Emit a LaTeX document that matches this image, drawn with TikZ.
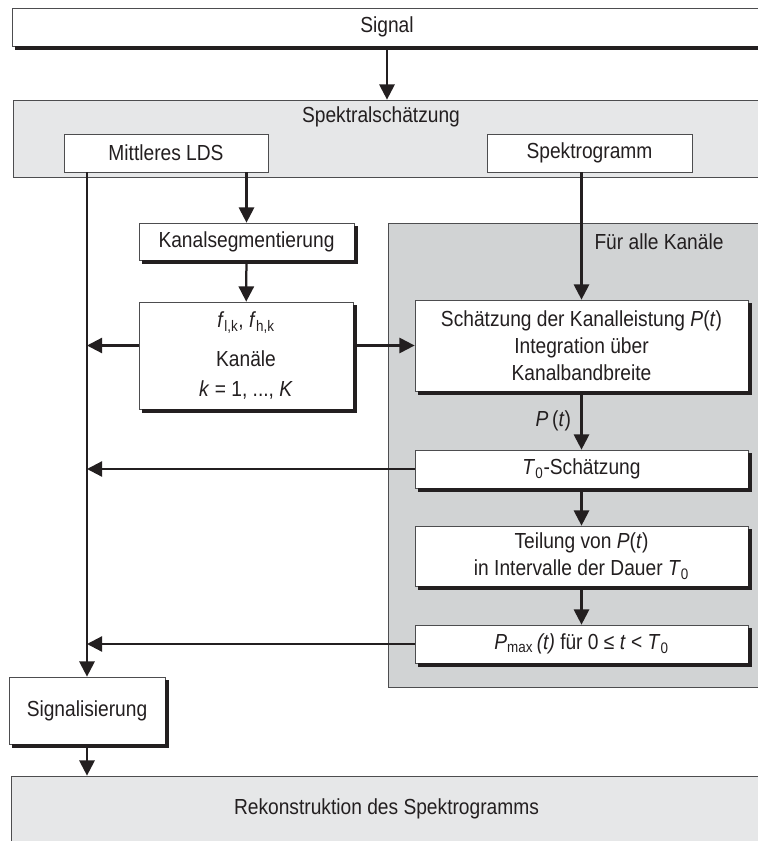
\documentclass[tikz,border=0pt]{standalone}
\usepackage{fontspec}
\setmainfont{Liberation Sans}[FakeStretch=0.88]
\usetikzlibrary{arrows.meta}
\definecolor{hellgrau}{HTML}{E6E7E8}
\definecolor{mittelgrau}{HTML}{D1D3D4}
\definecolor{rand}{HTML}{4D4D4F}
\definecolor{linie}{HTML}{231F20}

\begin{document}
\begin{tikzpicture}[x=0.025cm, y=-0.025cm,
		font=\fontsize{15.5}{19}\selectfont, text=linie,
		block/.style={draw=rand, fill=white, line width=0.5pt, inner sep=2pt, align=center},
		gruppe/.style={draw=rand, line width=0.5pt, inner sep=0pt},
		schatten/.style={fill=linie},
		pfeil/.style={draw=linie, line width=1.6pt, -{Triangle[length=0.38cm, width=0.38cm]}}]
	\useasboundingbox (0,0) rectangle (757,841);
	
	% grey groups
	\node[gruppe, fill=hellgrau, minimum width=18.725cm, minimum height=1.925cm] (spek) at (387.5,138.5) {};
	\node (spektxt) at (381,117) {Spektralschätzung};
	\node[gruppe, fill=mittelgrau, minimum width=9.35cm, minimum height=11.6cm] (alle) at (575,455) {};
	\node (alletxt) at (659,242) {Für alle Kanäle};
	\node[gruppe, fill=hellgrau, minimum width=18.775cm, minimum height=1.65cm] (rek) at (386.5,809) {Rekonstruktion des Spektrogramms};
	
	% blocks
	\node[block, minimum width=18.75cm, minimum height=0.95cm] (signal) at (387,27) {Signal};
	\node[block, minimum width=5.1cm, minimum height=0.95cm] (lds) at (166,153) {Mittleres LDS};
	\node[block, minimum width=5.125cm, minimum height=0.95cm] (spg) at (589.5,153) {Spektrogramm};
	\node[block, minimum width=5.375cm, minimum height=0.925cm] (kseg) at (246.5,241.5) {Kanalsegmentierung};
	\node[block, minimum width=5.35cm, minimum height=2.675cm] (kan) at (246,355.5)
		{\textit{f}\textsubscript{l,k}, \textit{f}\textsubscript{h,k}\\[9pt] Kanäle\\[2pt] \textit{k} = 1, ..., \textit{K}};
	\node[block, minimum width=8.325cm, minimum height=2.275cm] (schaetz) at (581.5,345.5)
		{Schätzung der Kanalleistung \textit{P}(\textit{t})\\ Integration über\\ Kanalbandbreite};
	\node[block, minimum width=8.325cm, minimum height=0.95cm] (tnull) at (581.5,469) {\textit{T}\textsubscript{0}-Schätzung};
	\node[block, minimum width=8.325cm, minimum height=1.5cm] (teil) at (581.5,556)
		{Teilung von \textit{P}(\textit{t})\\ in Intervalle der Dauer \textit{T}\textsubscript{0}};
	\node[block, minimum width=8.325cm, minimum height=0.95cm] (pmax) at (581.5,644)
		{\textit{P}\textsubscript{max}\,\textit{(t)} für 0 ≤ \textit{t} < \textit{T}\textsubscript{0}};
	\node[block, minimum width=3.9cm, minimum height=1.675cm] (sig) at (87,710.5) {Signalisierung};
	
	% shadows below and right of the blocks
	\foreach \n in {signal,kseg,kan,schaetz,tnull,teil,pmax,sig}
	{	\path[schatten] ([xshift=0.08cm]\n.south west) rectangle ([xshift=0.08cm, yshift=-0.08cm]\n.south east);
		\path[schatten] ([yshift=-0.08cm]\n.north east) rectangle ([xshift=0.08cm, yshift=-0.08cm]\n.south east);
	}
	
	% connections
	\draw[pfeil] (signal.south) -- (signal.south |- spek.north);
	\draw[pfeil] (kseg.north |- lds.south) -- (kseg.north);
	\draw[pfeil] (sig.north |- lds.south) -- (sig.north);
	\draw[pfeil] (schaetz.north |- spg.south) -- (schaetz.north);
	\draw[pfeil] (kan.east |- schaetz.west) -- (schaetz.west);
	\draw[pfeil] (kan.west |- schaetz.west) -- (sig.north |- schaetz.west);
	\draw[pfeil] (schaetz) -- node[left=0.12cm] {\textit{P}\,(\textit{t})} (tnull);
	\foreach \u\v in {kseg/kan, tnull/teil, teil/pmax}
	{	\draw[pfeil] (\u) -- (\v);
	}
	\foreach \u in {tnull, pmax}
	{	\draw[pfeil] (\u.west) -- (sig.north |- \u.west);
	}
	\draw[pfeil] (sig.south) -- (sig.south |- rek.north);
	
\end{tikzpicture}
\end{document}
